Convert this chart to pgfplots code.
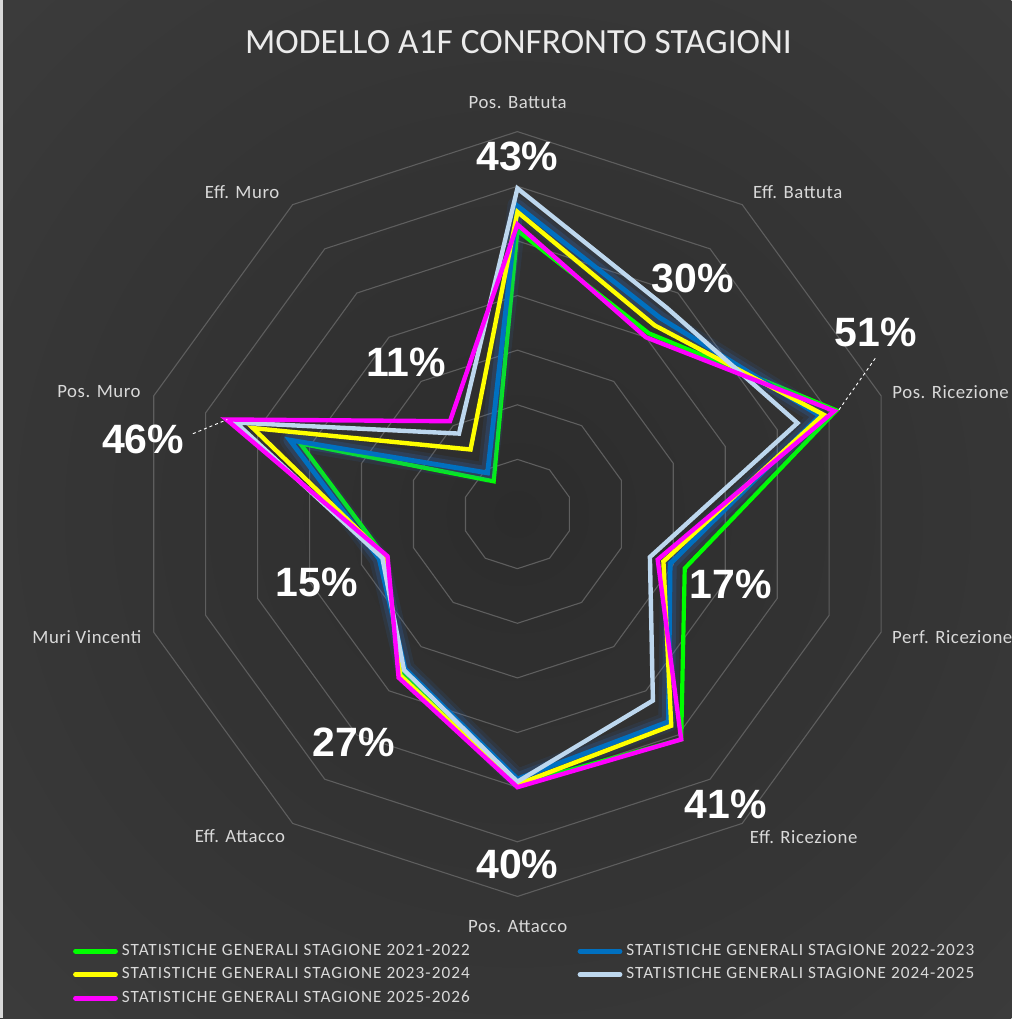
\documentclass[border=0pt]{standalone}
\usepackage{pgfplots}
\pgfplotsset{compat=1.18}
\usepackage{pgfplotstable}
\usepackage{fontspec}
\setmainfont{Carlito}
\newfontfamily\pctfont{Liberation Sans}
\newfontfamily\legfont[LetterSpace=6]{Carlito}
\newfontfamily\catfont[LetterSpace=3]{Carlito}
\definecolor{bgin}{HTML}{2C2C2C}
\definecolor{bgout}{HTML}{4B4B4B}
\definecolor{gridc}{HTML}{5E5E5E}
\definecolor{txt}{HTML}{D9D9D9}
\definecolor{sgreen}{HTML}{00FF00}
\definecolor{sblue}{HTML}{0070C0}
\definecolor{syellow}{HTML}{FFFF00}
\definecolor{slight}{HTML}{BDD7EE}
\definecolor{smag}{HTML}{FF00FF}
\definecolor{glowc}{HTML}{2E75D6}
\pgfdeclareradialshading{bgsh}{\pgfpointorigin}{color(0bp)=(bgin); color(50bp)=(bgout)}

% angle a (degrees); values in percent for each season
\pgfplotstableread{
a    g     b     y     l     m
90   41.9  46.4  45.3  49.6  43
54   30.9  34.4  32.7  36.6  30
18   51.4  48.2  48.9  43.9  51
-18  22.2  19.4  18.1  15.5  17
-54  41.0  37.0  37.9  32.2  41
-90  39.5  38.5  39.5  39.0  40
-126 26.1  25.0  26.5  25.3  27
-162 15.5  16.6  15.3  16.0  15
-198 31.8  33.8  40.9  44.2  46
-234 -2.6  -0.7  4.6   8.2   11
}\radar

\begin{document}
\begin{tikzpicture}
% background
\begin{scope}
\clip (-258.85pt,-252.34pt) rectangle (247.15pt,257.15pt);
\fill[bgout] (-258.85pt,-252.34pt) rectangle (247.15pt,257.15pt);
\shade[overlay, shading=bgsh] (0,0) circle [radius=370pt];
\fill[txt] (-258.85pt,-252.34pt) rectangle (-257.2pt,257.15pt);
\end{scope}
% decagon grid (rings every 10 %, centre = -10 %)
\foreach \r in {10,20,...,70}{
  \draw[gridc, line width=0.55pt] (90:{\r*2.733pt}) -- (54:{\r*2.733pt}) -- (18:{\r*2.733pt}) -- (-18:{\r*2.733pt}) -- (-54:{\r*2.733pt}) -- (-90:{\r*2.733pt}) -- (-126:{\r*2.733pt}) -- (-162:{\r*2.733pt}) -- (-198:{\r*2.733pt}) -- (-234:{\r*2.733pt}) -- cycle;
}
\begin{axis}[
  anchor=origin, at={(0pt,0pt)},
  x=2.733pt, y=2.733pt,
  xmin=-94.71, xmax=90.43, ymin=-92.33, ymax=94.09,
  hide axis, clip=false,
  legend columns=2,
  legend cell align=left,
  legend style={at={(axis cs:-82.5,-77.2)}, anchor=north west, draw=none, fill=none,
    text=txt, font=\legfont\fontsize{8.6}{10}\selectfont,
    /tikz/every even column/.append style={column sep=0pt},
    row sep=0.6pt},
  legend image code/.code={\draw[#1, line width=2.4pt, line cap=round, opacity=1] (0pt,0pt) -- (20pt,0pt);},
]
% green
\addplot[sgreen, line width=2.1pt, line join=miter]
  table[x expr={(\thisrow{g}+10)*cos(\thisrow{a})}, y expr={(\thisrow{g}+10)*sin(\thisrow{a})}] {\radar} -- cycle;
\addlegendentry{\makebox[226pt][l]{STATISTICHE GENERALI STAGIONE 2021-2022}}
% blue with glow
\addplot[glowc, opacity=0.10, line width=10pt, line join=round, forget plot]
  table[x expr={(\thisrow{b}+10)*cos(\thisrow{a})}, y expr={(\thisrow{b}+10)*sin(\thisrow{a})}] {\radar} -- cycle;
\addplot[glowc, opacity=0.18, line width=6.5pt, line join=round, forget plot]
  table[x expr={(\thisrow{b}+10)*cos(\thisrow{a})}, y expr={(\thisrow{b}+10)*sin(\thisrow{a})}] {\radar} -- cycle;
\addplot[sblue, line width=2.4pt, line join=miter]
  table[x expr={(\thisrow{b}+10)*cos(\thisrow{a})}, y expr={(\thisrow{b}+10)*sin(\thisrow{a})}] {\radar} -- cycle;
\addlegendentry{STATISTICHE GENERALI STAGIONE 2022-2023}
% yellow
\addplot[syellow, line width=2.2pt, line join=miter]
  table[x expr={(\thisrow{y}+10)*cos(\thisrow{a})}, y expr={(\thisrow{y}+10)*sin(\thisrow{a})}] {\radar} -- cycle;
\addlegendentry{\makebox[226pt][l]{STATISTICHE GENERALI STAGIONE 2023-2024}}
% light blue
\addplot[slight, line width=2.2pt, line join=miter]
  table[x expr={(\thisrow{l}+10)*cos(\thisrow{a})}, y expr={(\thisrow{l}+10)*sin(\thisrow{a})}] {\radar} -- cycle;
\addlegendentry{STATISTICHE GENERALI STAGIONE 2024-2025}
% magenta
\addplot[smag, line width=2.2pt, line join=miter]
  table[x expr={(\thisrow{m}+10)*cos(\thisrow{a})}, y expr={(\thisrow{m}+10)*sin(\thisrow{a})}] {\radar} -- cycle;
\addlegendentry{\makebox[226pt][l]{STATISTICHE GENERALI STAGIONE 2025-2026}}

% title
\node[color=white!92!black, font=\fontsize{17.7}{20}\selectfont] at (axis cs:0.2,86.4) {MODELLO A1F CONFRONTO STAGIONI};
% category labels
\begin{scope}[every node/.style={text=txt, font=\catfont\fontsize{9.4}{11}\selectfont}]
\node at (axis cs:0.05,75.3) {Pos. Battuta};
\node at (axis cs:51.3,59.0) {Eff. Battuta};
\node at (axis cs:79.3,22.4) {Pos. Ricezione};
\node at (axis cs:79.6,-22.6) {Perf. Ricezione};
\node at (axis cs:52.4,-59.2) {Eff. Ricezione};
\node at (axis cs:0.05,-75.5) {Pos. Attacco};
\node at (axis cs:-50.8,-58.9) {Eff. Attacco};
\node at (axis cs:-78.8,-22.6) {Muri Vincenti};
\node at (axis cs:-76.6,22.4) {Pos. Muro};
\node at (axis cs:-50.4,59.0) {Eff. Muro};
\end{scope}
% leader lines
\draw[white, line width=0.45pt, dash pattern=on 1.5pt off 1.5pt] (axis cs:65.5,28.5) -- (axis cs:58.8,19.0);
\draw[white, line width=0.45pt, dash pattern=on 1.5pt off 1.5pt] (axis cs:-59.4,14.7) -- (axis cs:-53.1,17.3);
% data labels (2025-2026)
\begin{scope}[every node/.style={text=white, font=\pctfont\bfseries\fontsize{20.5}{21}\selectfont}]
\node at (axis cs:0,65.5) {43\%};
\node at (axis cs:32.1,43.2) {30\%};
\node at (axis cs:65.6,33.2) {51\%};
\node at (axis cs:39.0,-12.9) {17\%};
\node at (axis cs:38.1,-53.1) {41\%};
\node at (axis cs:0,-64.1) {40\%};
\node at (axis cs:-30.0,-41.8) {27\%};
\node at (axis cs:-36.7,-12.6) {15\%};
\node at (axis cs:-68.5,13.6) {46\%};
\node at (axis cs:-20.4,27.7) {11\%};
\end{scope}
\end{axis}
\end{tikzpicture}
\end{document}
